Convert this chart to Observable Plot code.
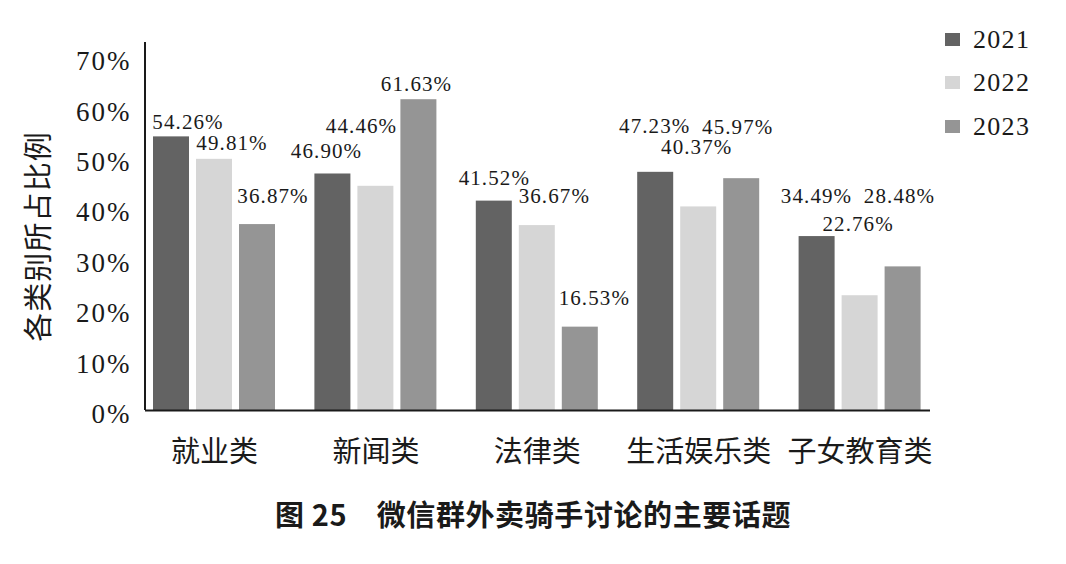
<!DOCTYPE html>
<html>
<head>
<meta charset="utf-8">
<script src="https://cdn.jsdelivr.net/npm/d3@7"></script>
<script src="https://cdn.jsdelivr.net/npm/@observablehq/plot@0.6"></script>
<style>
  body { margin: 0; background: #fff; }
  #wrap { position: relative; width: 1066px; height: 564px; overflow: hidden; background: #fff; }
  #chart svg { display: block; }
  g[aria-label="y-axis tick label"] text { font-family: "Liberation Serif", serif; font-size: 27px; letter-spacing: 2px; fill: #1a1a1a; }
  g[aria-label="x-axis tick label"] text { font-family: "Noto Sans CJK SC", sans-serif; font-size: 29px; fill: #1a1a1a; }
  g[aria-label="text"] text { letter-spacing: 1.1px; }
  .legend { position: absolute; left: 945px; font-family: "Liberation Serif", serif; font-size: 26px; line-height: 26px; color: #1a1a1a; letter-spacing: 1.3px; }
  .legend span.sw { position: absolute; left: 0; width: 15px; height: 13px; }
  .legend span.tx { position: absolute; left: 28px; white-space: nowrap; }
  #caption { position: absolute; left: 0; width: 1066px; top: 499px; text-align: center; font-family: "Noto Sans CJK SC", sans-serif; font-weight: bold; font-size: 29px; line-height: 29px; letter-spacing: 0.6px; color: #1a1a1a; white-space: pre; }
</style>
</head>
<body>
<div id="wrap">
  <div id="chart"></div>
  <div id="legend"></div>
  <div id="caption"></div>
</div>
<script>
// ---- data ----
const categories = ["就业类", "新闻类", "法律类", "生活娱乐类", "子女教育类"];
const years = ["2021", "2022", "2023"];
const values2021 = [54.26, 46.90, 41.52, 47.23, 34.49];
const values2022 = [49.81, 44.46, 36.67, 40.37, 22.76];
const values2023 = [36.87, 61.63, 16.53, 45.97, 28.48];
const yTicks = [0, 10, 20, 30, 40, 50, 60, 70];
const yLabel = "各类别所占比例";
const captionText = "图 25\u3000微信群外卖骑手讨论的主要话题";

// ---- styling / layout (kept separate from data) ----
const colors = ["#636363", "#d6d6d6", "#959595"];
// hand-placed label nudges (pixels, relative to bar-group centre and bar top)
const labelNudgeX = [
  [-26.5, -49.4, -43, -44, -43.6],
  [17.5, -14.4, 17, -2, -2],
  [58.5, 40.6, 57, 39, 39.4]
];
const labelNudgeY = [
  [-8, -15.5, -16, -39, -34],
  [-9, -53, -23, -53, -65],
  [-22, -9, -22, -45, -64]
];

const seriesValues = [values2021, values2022, values2023];
const data = years.flatMap((yr, s) =>
  categories.map((c, i) => ({category: c, year: yr, s, i, value: seriesValues[s][i]}))
);

const W = 1066, H = 480;
const axisLeft = 145, axisRight = 930, axisTop = 42, baseY = 410;
const xRange = [133.3, 940.3];
const yRange = [410, 57];
const bw = (xRange[1] - xRange[0]) / categories.length;
const barW = 36, barStep = 43;
function insetFor(s) {
  const c = bw / 2 + (s - 1) * barStep;
  return {insetLeft: c - barW / 2, insetRight: bw - (c + barW / 2)};
}

const marks = [];
years.forEach((yr, s) => {
  marks.push(Plot.barY(data.filter(d => d.year === yr), {
    x: "category", y: "value", fill: colors[s], ...insetFor(s)
  }));
});
marks.push(Plot.ruleY([0], {stroke: "#1a1a1a", strokeWidth: 2}));
data.forEach(d => {
  marks.push(Plot.text([d], {
    x: "category", y: "value",
    text: v => v.value.toFixed(2) + "%",
    lineAnchor: "bottom",
    dx: labelNudgeX[d.s][d.i], dy: labelNudgeY[d.s][d.i],
    fontSize: 21, fontFamily: "Liberation Serif", fill: "#1a1a1a"
  }));
});
marks.push(Plot.axisY({ticks: yTicks, tickFormat: d => d + "%", tickSize: 0, tickPadding: 14, label: null, dy: 4}));
marks.push(Plot.axisX({tickSize: 0, tickPadding: 31, label: null}));
marks.push(Plot.text([yLabel], {
  frameAnchor: "left", textAnchor: "middle", lineAnchor: "middle", rotate: -90, dx: -106, dy: 10,
  fontSize: 29, fontFamily: "Noto Sans CJK SC", fill: "#1a1a1a"
}));

const plot = Plot.plot({
  width: W, height: H,
  marginLeft: axisLeft, marginRight: W - axisRight, marginTop: axisTop, marginBottom: H - baseY,
  x: {type: "band", domain: categories, range: xRange, padding: 0, round: false},
  y: {domain: [0, 70], range: yRange},
  style: {background: "#fff", color: "#1a1a1a"},
  marks
});

// vertical axis line, from the frame top down to y = 0
const ys = plot.scale("y");
d3.select(plot).append("line")
  .attr("x1", axisLeft).attr("x2", axisLeft)
  .attr("y1", axisTop).attr("y2", ys.apply(0))
  .attr("stroke", "#1a1a1a").attr("stroke-width", 2);

document.getElementById("chart").appendChild(plot);

// legend
const legendCenters = [40, 83, 127];
const lg = document.getElementById("legend");
years.forEach((yr, s) => {
  const row = document.createElement("div");
  row.className = "legend";
  row.style.top = (legendCenters[s] - 13) + "px";
  row.innerHTML = `<span class="sw" style="top:${6}px;background:${colors[s]}"></span><span class="tx">${yr}</span>`;
  lg.appendChild(row);
});

document.getElementById("caption").textContent = captionText;
</script>
</body>
</html>
